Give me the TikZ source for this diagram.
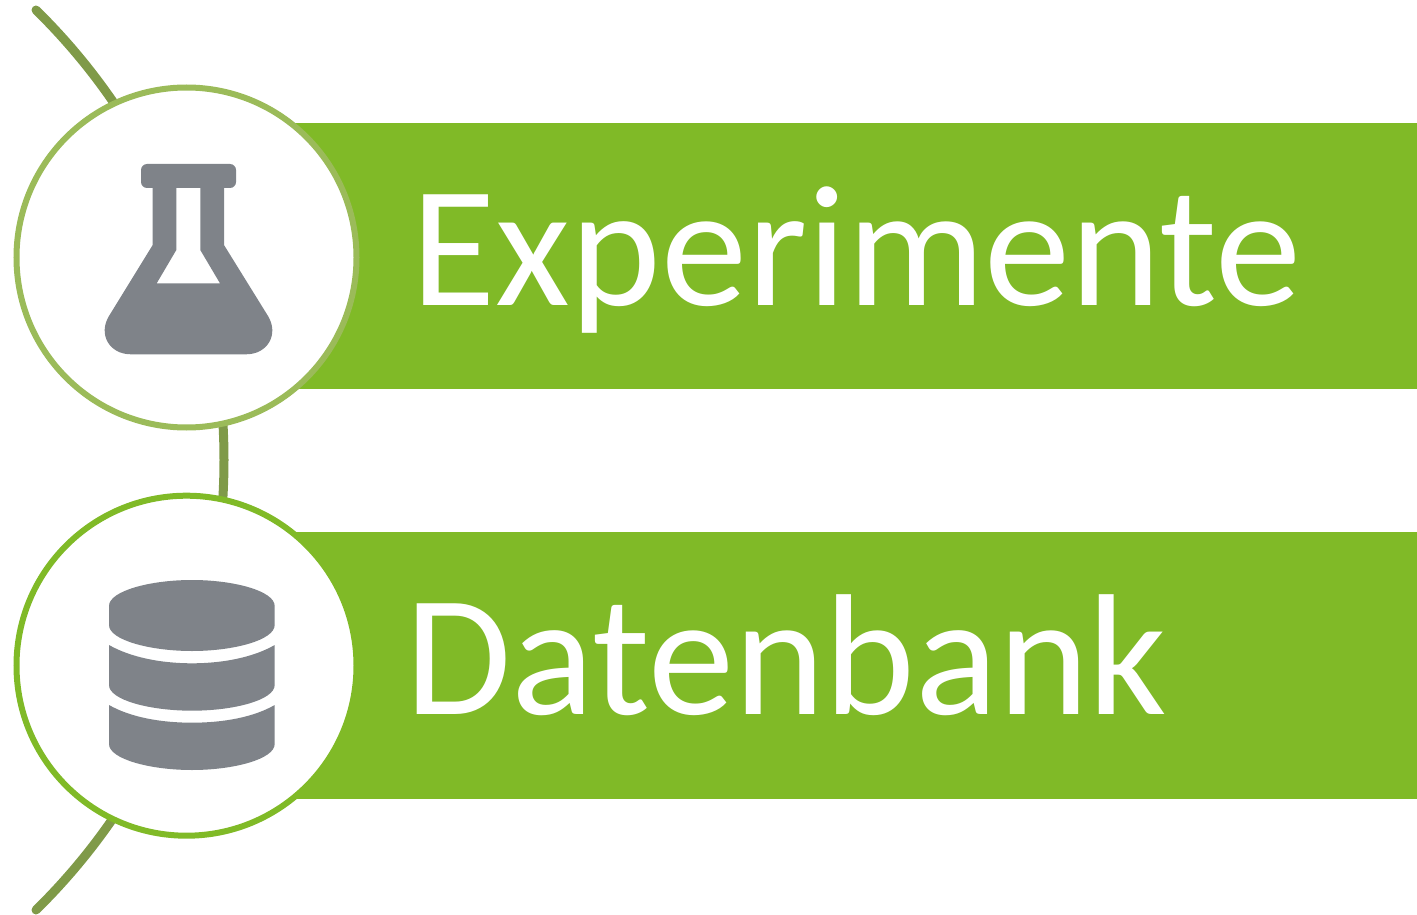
\documentclass[tikz,border=0pt]{standalone}
\usepackage{fontspec}
\setmainfont{Carlito}
\definecolor{barg}{HTML}{80BA27}
\definecolor{ringa}{HTML}{9BBB59}
\definecolor{arcg}{HTML}{7F9A48}
\definecolor{icon}{HTML}{7F8389}
\tikzset{
  x=1pt,y=-1pt,
  bar/.style={fill=barg,draw=none,minimum width=1222pt,minimum height=266.5pt,inner sep=0pt,outer sep=0pt,anchor=west},
  disc/.style={circle,fill=white,line width=6pt,minimum size=340pt,inner sep=0pt,outer sep=0pt},
  label/.style={text=white,font=\fontsize{172.6}{172.6}\selectfont,inner sep=0pt,anchor=base west},
  spine/.style={draw=arcg,line width=9pt,line cap=round},
  glyph/.style={fill=icon,draw=none}
}
\begin{document}
\begin{tikzpicture}
\useasboundingbox (0,0) rectangle (1417,915);
\coordinate (spineTop) at (36,10);
\coordinate (spineMid) at (224,460);
\coordinate (spineBot) at (36,910);
\draw[spine] (spineTop) .. controls (156.5,128.3) and (224,290.4) .. (spineMid) .. controls (224,629.6) and (156.5,791.7) .. (spineBot);
\node[bar] (bar1) at (195,255.9) {};
\node[bar] (bar2) at (195,665.5) {};
\node[disc,draw=ringa] (c1) at (186.5,257.5) {};
\node[disc,draw=barg] (c2) at (186.5,665.7) {};
\node[label] (t1) at (411.5,305) {Experimente};
\node[label] (t2) at (405,714) {Datenbank};
% flask
\fill[glyph,even odd rule]
  (147,164) -- (230,164) arc[start angle=-90,end angle=0,radius=6] -- (236,182) arc[start angle=0,end angle=90,radius=6]
  -- (224,188) -- (224,245) -- (268,316)
  .. controls (279,334) and (268,354.3) .. (246,354.3) -- (131,354.3)
  .. controls (109,354.3) and (98,334) .. (109,316)
  -- (152.7,245) -- (152.7,188) -- (147,188) arc[start angle=90,end angle=180,radius=6] -- (141,170) arc[start angle=180,end angle=270,radius=6] -- cycle
  (176.3,188) -- (176.3,250) -- (156.7,283.3) -- (220,283.3) -- (200.3,250) -- (200.3,188) -- cycle;
% database
\fill[glyph] (109,606) .. controls (109,591) and (150,580) .. (192,580) .. controls (234,580) and (274.7,591) .. (274.7,606)
  -- (274.7,625) .. controls (274.7,640) and (234,651) .. (192,651) .. controls (150,651) and (109,640) .. (109,625) -- cycle;
\fill[glyph] (109,645) .. controls (130,657) and (160,663.3) .. (192,663.3) .. controls (224,663.3) and (254,657) .. (274.7,645)
  -- (274.7,685) .. controls (274.7,700) and (234,710.7) .. (192,710.7) .. controls (150,710.7) and (109,700) .. (109,685) -- cycle;
\fill[glyph] (109,705) .. controls (130,717) and (160,722.7) .. (192,722.7) .. controls (224,722.7) and (254,717) .. (274.7,705)
  -- (274.7,744) .. controls (274.7,759) and (234,770) .. (192,770) .. controls (150,770) and (109,759) .. (109,744) -- cycle;
\end{tikzpicture}
\end{document}
